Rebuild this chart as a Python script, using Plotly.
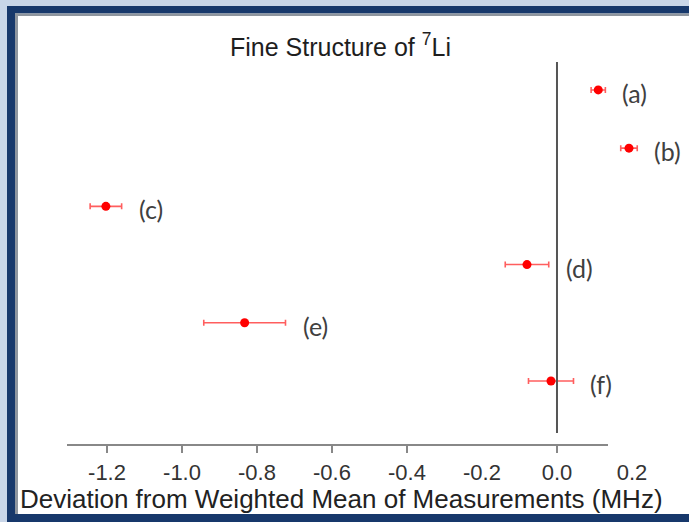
import plotly.graph_objects as go

# ---- data ----
labels = ["(a)", "(b)", "(c)", "(d)", "(e)", "(f)"]
deviation = [0.110, 0.192, -1.203, -0.080, -0.833, -0.016]
uncertainty = [0.019, 0.022, 0.042, 0.058, 0.109, 0.060]
row = [6, 5, 4, 3, 2, 1]
tick_vals_labels = [-1.2, -1.0, -0.8, -0.6, -0.4, -0.2, 0.0, 0.2]
tick_text = ["-1.2", "-1.0", "-0.8", "-0.6", "-0.4", "-0.2", "0.0", "0.2"]
tick_vals_marks = [-1.2, -1.0, -0.8, -0.6, -0.4, 0.0]

W, H = 689, 522
ML, MR, MT, MB = 67, 44, 62, 77
PW, PH = W - ML - MR, H - MT - MB


def px(x):
    return (x - ML) / PW


def py(y):
    return (H - MB - y) / PH


def band(x0, x1, y0, y1, color, layer="below"):
    return dict(type="rect", xref="paper", yref="paper", x0=px(x0), x1=px(x1),
                y0=py(y1), y1=py(y0), fillcolor=color, line=dict(width=0), layer=layer)


fig = go.Figure()
fig.add_trace(go.Scatter(
    x=deviation, y=row, mode="markers",
    marker=dict(color="#ff0000", size=9),
    error_x=dict(type="data", array=uncertainty, color="rgba(255,40,40,0.75)",
                 thickness=1.6, width=3),
    showlegend=False, hoverinfo="skip",
))
# invisible trace to hold the tick-mark axis
fig.add_trace(go.Scatter(x=[0], y=[1], xaxis="x2", mode="markers",
                         marker=dict(opacity=0), showlegend=False, hoverinfo="skip"))

for lab, d, e, r in zip(labels, deviation, uncertainty, row):
    fig.add_annotation(x=d + e, y=r, text=lab, showarrow=False, xanchor="left",
                       xshift=15, yshift=-3,
                       font=dict(family="Lato", size=25, color="#404040"))

xr = [-1.3067, 0.2347]
yr = [-0.10, 6.48]

shapes = [
    # frame (light outer strip, navy border, grey inner line)
    band(0, W, 0, 6, "#c9d6e8"),
    band(0, 7, 0, H, "#c9d6e8"),
    band(7, W, 6, 13.5, "#17386b"),
    band(7, 15, 6, H, "#17386b"),
    band(15, W, 13.5, 16, "#8e959e"),
    band(15, 18, 13.5, 514, "#8e959e"),
    band(7, W, 514, H, "#17386b"),
    band(18, W, 16, 514, "#ffffff"),
    # x axis line
    dict(type="line", xref="paper", yref="paper", x0=px(67), x1=px(608), y0=0, y1=0,
         line=dict(color="#888888", width=2)),
    # zero line
    dict(type="line", xref="x", yref="paper", x0=0, x1=0, y0=py(433), y1=1,
         line=dict(color="#555555", width=2)),
]

fig.update_layout(
    width=W, height=H,
    margin=dict(l=ML, r=MR, t=MT, b=MB, pad=0),
    paper_bgcolor="#ffffff", plot_bgcolor="rgba(0,0,0,0)",
    shapes=shapes,
    xaxis=dict(range=xr, tickmode="array", tickvals=tick_vals_labels, ticktext=tick_text,
               ticks="", showline=False, showgrid=False, zeroline=False,
               tickfont=dict(family="Liberation Sans", size=22, color="#333333"),
               ticklabelstandoff=12),
    xaxis2=dict(range=xr, overlaying="x", anchor="y", side="bottom", tickmode="array",
                tickvals=tick_vals_marks, ticks="outside", ticklen=7, tickwidth=2,
                tickcolor="#888888", showticklabels=False, showline=False,
                showgrid=False, zeroline=False),
    yaxis=dict(range=yr, visible=False),
    annotations=list(fig.layout.annotations) + [
        dict(xref="paper", yref="paper", x=px(340), y=py(45), xanchor="center", yanchor="middle",
             text="Fine Structure of <sup>7</sup>Li", showarrow=False,
             font=dict(family="Liberation Sans", size=25, color="#1e1e1e")),
        dict(xref="paper", yref="paper", x=px(341), y=py(499), xanchor="center", yanchor="middle",
             text="Deviation from Weighted Mean of Measurements (MHz)", showarrow=False,
             font=dict(family="Liberation Sans", size=26, color="#222222")),
    ],
)

fig.write_html("out.html", config={"displayModeBar": False})
